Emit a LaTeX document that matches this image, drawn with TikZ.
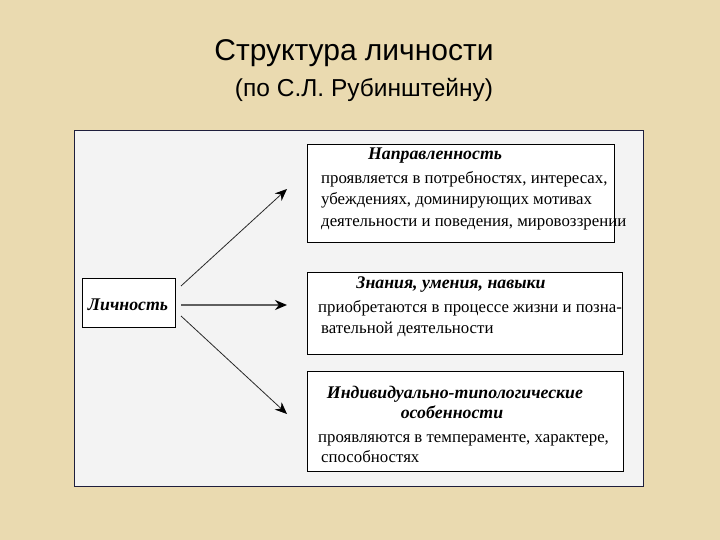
\documentclass[tikz,border=0pt]{standalone}
\usepackage{fontspec}
\setmainfont{Liberation Serif}
\newfontfamily\arialfont{Liberation Sans}
\usetikzlibrary{arrows.meta}
\definecolor{parch}{RGB}{234,218,176}
\definecolor{panelbg}{RGB}{243,243,243}
\definecolor{panelline}{RGB}{30,30,60}
\definecolor{arrowgray}{RGB}{40,40,40}
\definecolor{midgray}{RGB}{95,95,95}
\tikzset{
  boxnode/.style={draw=black, line width=0.9pt, fill=white, inner sep=0pt, anchor=north west},
  headtext/.style={font=\fontsize{17.8}{20}\selectfont\bfseries\itshape, inner sep=0pt, anchor=base},
  bodytext/.style={font=\fontsize{16.8}{19}\selectfont, inner sep=0pt, anchor=base west},
  arr/.style={draw=arrowgray, line width=0.8pt, -{Stealth[length=12pt,width=10pt,color=black]}},
  midarr/.style={draw=midgray, line width=2pt, -{Stealth[length=12pt,width=10pt,color=black]}},
}
\begin{document}
\begin{tikzpicture}[x=1pt,y=-1pt]
\useasboundingbox (0,0) rectangle (720,540);
\fill[parch] (0,0) rectangle (720,540);
% title
\node[font=\arialfont\fontsize{30}{34}\selectfont, inner sep=0pt, anchor=base] (title) at (354,61) {Структура личности};
\node[font=\arialfont\fontsize{24.5}{28}\selectfont, inner sep=0pt, anchor=base] (subtitle) at (364,97) {(по С.Л. Рубинштейну)};
% panel
\node[draw=panelline, line width=0.9pt, fill=panelbg, inner sep=0pt, anchor=north west, minimum width=569pt, minimum height=356pt] (panel) at (74,130) {};
% boxes
\node[boxnode, minimum width=93pt, minimum height=49pt] (lich) at (82,278) {};
\node[boxnode, minimum width=307pt, minimum height=98pt] (b1) at (307,144) {};
\node[boxnode, minimum width=315pt, minimum height=82pt] (b2) at (307,272) {};
\node[boxnode, minimum width=316pt, minimum height=100pt] (b3) at (307,371) {};
% texts
\node[headtext] (lichT) at (128,310) {Личность};
\node[headtext] (h1) at (435,160) {Направленность};
\node[bodytext] (l11) at (321,184) {проявляется в потребностях, интересах,};
\node[bodytext] (l12) at (321,205) {убеждениях, доминирующих мотивах};
\node[bodytext] (l13) at (321,226) {деятельности и поведения, мировоззрении};
\node[headtext] (h2) at (451,288) {Знания, умения, навыки};
\node[bodytext] (l21) at (318,312) {приобретаются в процессе жизни и позна-};
\node[bodytext] (l22) at (321,333) {вательной деятельности};
\node[headtext] (h31) at (455,398) {Индивидуально-типологические};
\node[headtext] (h32) at (452,418) {особенности};
\node[bodytext] (l31) at (318,442) {проявляются в темпераменте, характере,};
\node[bodytext] (l32) at (321,462) {способностях};
% arrows
\coordinate (s1) at (181,286);
\coordinate (t1) at (287,189);
\coordinate (s2) at (181,305);
\coordinate (t2) at (287,305);
\coordinate (s3) at (181,316);
\coordinate (t3) at (287,414);
\draw[arr] (s1) -- (t1);
\draw[midarr] (s2) -- (t2);
\draw[arr] (s3) -- (t3);
\end{tikzpicture}
\end{document}
